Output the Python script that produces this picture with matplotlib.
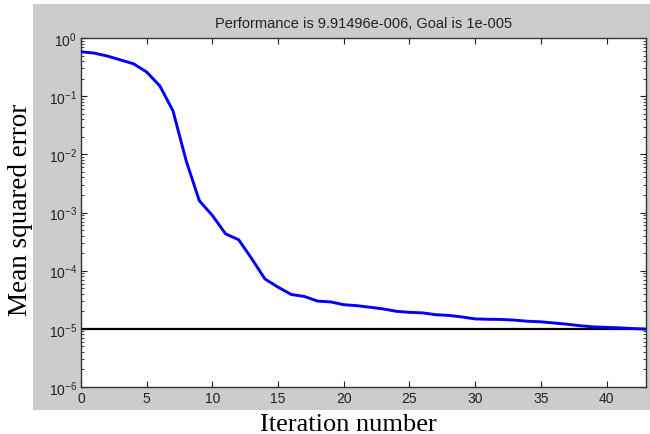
import matplotlib
matplotlib.use('Agg')
import matplotlib.pyplot as plt
from matplotlib.patches import Rectangle
from matplotlib.ticker import LogLocator, FixedLocator, NullFormatter

# training record
epochs = list(range(0, 44))
mse = [0.58, 0.55, 0.49, 0.42, 0.36, 0.26, 0.15, 0.056, 0.0078, 0.0016,
       8.9e-4, 4.3e-4, 3.4e-4, 1.6e-4, 7.2e-5, 5.2e-5, 3.9e-5, 3.6e-5, 3.0e-5, 2.9e-5,
       2.6e-5, 2.5e-5, 2.35e-5, 2.2e-5, 2.0e-5, 1.92e-5, 1.88e-5, 1.75e-5, 1.7e-5, 1.6e-5,
       1.48e-5, 1.46e-5, 1.45e-5, 1.41e-5, 1.35e-5, 1.32e-5, 1.26e-5, 1.2e-5, 1.13e-5, 1.08e-5,
       1.06e-5, 1.04e-5, 1.01e-5, 9.91496e-6]
goal = 1e-5
xticks = [0, 5, 10, 15, 20, 25, 30, 35, 40]
yexps = [0, -1, -2, -3, -4, -5, -6]

plt.rcParams['mathtext.fontset'] = 'custom'
plt.rcParams['mathtext.rm'] = 'Liberation Sans'
plt.rcParams['mathtext.default'] = 'regular'


def main():
  fig = plt.figure(figsize=(6.5, 4.35), dpi=100)
  fig.patch.set_facecolor('white')
  fig.patches.append(Rectangle((33 / 650, 24 / 435), 617 / 650, 406 / 435,
                               transform=fig.transFigure, facecolor='#cccccc',
                               edgecolor='none', zorder=-10))

  ax = fig.add_axes([81 / 650, 47 / 435, 565 / 650, 349 / 435])
  ax.set_facecolor('white')
  ax.plot(epochs, mse, color='#0000ff', lw=2.1, zorder=3)
  ax.axhline(goal, color='black', lw=1.6, zorder=2)

  ax.set_yscale('log')
  ax.set_xlim(0, 43)
  ax.set_ylim(1e-6, 1)
  ax.xaxis.set_major_locator(FixedLocator(xticks))
  ax.set_xticklabels([str(t) for t in xticks])
  ax.yaxis.set_major_locator(FixedLocator([10.0 ** e for e in yexps]))
  ax.set_yticklabels(['$10^{%d}$' % e for e in yexps])
  ax.yaxis.set_minor_locator(LogLocator(base=10, subs=range(2, 10), numticks=20))
  ax.yaxis.set_minor_formatter(NullFormatter())

  ax.tick_params(which='both', direction='in', top=True, right=True,
                 colors='#222222', labelcolor='#222222', labelsize=10, pad=3)
  ax.tick_params(which='major', length=4, width=0.8)
  ax.tick_params(which='minor', length=2, width=0.6)
  for lbl in ax.get_xticklabels() + ax.get_yticklabels():
    lbl.set_fontfamily('Liberation Sans')
  for s in ax.spines.values():
    s.set_color('#333333')
    s.set_linewidth(1.0)

  ax.set_title('Performance is 9.91496e-006, Goal is 1e-005',
               fontfamily='Liberation Sans', fontsize=10.5, color='#222222', pad=8)
  fig.text(348 / 650, 1 - 431 / 435, 'Iteration number', fontfamily='Liberation Serif',
           fontsize=19, ha='center', va='baseline')
  fig.text(21 / 650, 1 - 210 / 435, 'Mean squared error', fontfamily='Liberation Serif',
           fontsize=19.5, ha='center', va='center', rotation=90)

  fig.savefig('out.png', dpi=100)


if __name__ == "__main__":
  main()
